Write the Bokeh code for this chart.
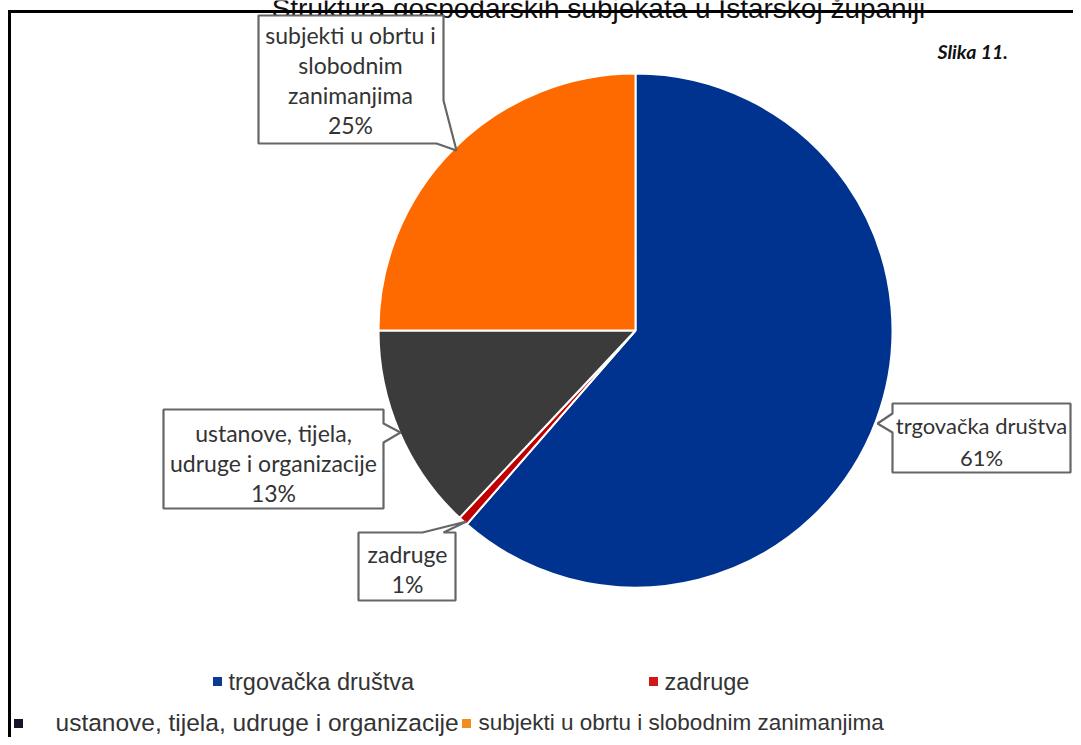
import numpy as np
from bokeh.plotting import figure
from bokeh.models import Range1d, ColumnDataSource
from bokeh.core.properties import value
from bokeh.embed import file_html
from bokeh.resources import INLINE

# ---------------- data ----------------
categories = ["trgovačka društva", "zadruge",
              "ustanove, tijela, udruge i organizacije",
              "subjekti u obrtu i slobodnim zanimanjima"]
shares = [61.4, 0.6, 13.0, 25.0]
pct_labels = ["61%", "1%", "13%", "25%"]
callout_lines = [["trgovačka društva"],
                 ["zadruge"],
                 ["ustanove, tijela,", "udruge i organizacije"],
                 ["subjekti u obrtu i", "slobodnim", "zanimanjima"]]
slice_colors = ["#00338F", "#C00000", "#3B3B3B", "#FF6A00"]
legend_colors = ["#0A3A96", "#D01818", "#15152C", "#F28C1E"]
title_text = "Struktura gospodarskih subjekata u Istarskoj županiji"
figure_tag = "Slika 11."

# ---------------- figure ----------------
W, H = 1073, 737
p = figure(width=W, height=H, x_range=Range1d(0, W), y_range=Range1d(0, H),
           output_backend="svg", toolbar_location=None, min_border=0)
p.axis.visible = False
p.grid.visible = False
p.outline_line_color = None
p.background_fill_color = "white"
p.border_fill_color = "white"


def X(px):
    return px


def Y(py):
    return H - py


# title (cut at the top, as in the scan)
p.text(x=[X(598)], y=[Y(8)], text=[title_text], text_font=value("Liberation Sans"),
       text_font_size="28px", text_align="center", text_baseline="alphabetic",
       text_color="#111111")

# outer frame (left and top edges visible)
p.segment(x0=[X(9), X(7.5)], y0=[Y(11), Y(11)], x1=[X(9), X(1090)], y1=[Y(760), Y(11)],
          line_color="black", line_width=3)

# ---------------- pie ----------------
fr = np.array(shares, dtype=float) / sum(shares)
cum = np.concatenate([[0.0], np.cumsum(fr)])
start = np.pi / 2 - cum[1:] * 2 * np.pi
end = np.pi / 2 - cum[:-1] * 2 * np.pi
src = ColumnDataSource(dict(start=start, end=end, color=slice_colors))
p.wedge(x=X(635), y=Y(330), radius=257, start_angle="start", end_angle="end",
        fill_color="color", line_color="white", line_width=2, source=src)

# ---------------- callouts ----------------
def box(l, t, r, b, side, a, tip, c):
    # polygon of rectangle with a pointer on one side (page coords)
    if side == "right":
        pts = [(l, t), (r, t), (r, a), tip, (r, c), (r, b), (l, b)]
    elif side == "left":
        pts = [(l, t), (r, t), (r, b), (l, b), (l, c), tip, (l, a)]
    elif side == "top":
        pts = [(l, t), (a, t), tip, (c, t), (r, t), (r, b), (l, b)]
    else:  # pointer leaving the bottom-right corner
        pts = [(l, t), (r, t), (r, a), tip, (c, b), (l, b)]
    return [X(x) for x, _ in pts], [Y(y) for _, y in pts]


boxes = [
    box(892, 403, 1070, 472, "left", 413, (877, 423), 432),
    box(358, 532, 455, 600, "top", 422, (466, 521), 443),
    box(163, 409, 383, 508, "right", 423, (400, 432), 442),
    box(258, 15, 443, 143, "corner", 100, (456, 150), 436),
]
p.patches(xs=[b[0] for b in boxes], ys=[b[1] for b in boxes], fill_color="white",
          line_color="#666666", line_width=2.2)

# callout text positions (page coords): centre x, first line y, line step, size
text_pos = [(981, 425, 32, "22px"), (407, 553, 30, "23px"),
            (273, 432, 30, "23px"), (350, 34, 30, "23px")]
for lines, pct, (cx, y0, step, fs) in zip(callout_lines, pct_labels, text_pos):
    items = lines + [pct]
    p.text(x=[X(cx)] * len(items), y=[Y(y0 + i * step) for i in range(len(items))],
           text=items, text_font=value("Lato"), text_font_size=fs,
           text_align="center", text_baseline="middle", text_color="#333333")

# figure tag
p.text(x=[X(937)], y=[Y(51)], text=[figure_tag], text_font=value("Lato"),
       text_font_size="19.5px", text_font_style="bold italic", text_align="left",
       text_baseline="middle", text_color="#111111")

# ---------------- legend ----------------
leg_sq = [(217, 681), (653, 681), (18, 723), (466, 723)]
leg_tx = [(228, 681), (664, 681), (55, 722), (478, 722)]
leg_fs = ["23.5px", "23.5px", "24.5px", "22.5px"]
p.rect(x=[X(a) for a, _ in leg_sq], y=[Y(b) for _, b in leg_sq], width=9, height=9,
       fill_color=legend_colors, line_color=None)
for (a, b), name, fs in zip(leg_tx, categories, leg_fs):
    p.text(x=[X(a)], y=[Y(b)], text=[name], text_font=value("Liberation Sans"),
           text_font_size=fs, text_align="left", text_baseline="middle",
           text_color="#333333")

open("out.html", "w").write(file_html(p, INLINE))
